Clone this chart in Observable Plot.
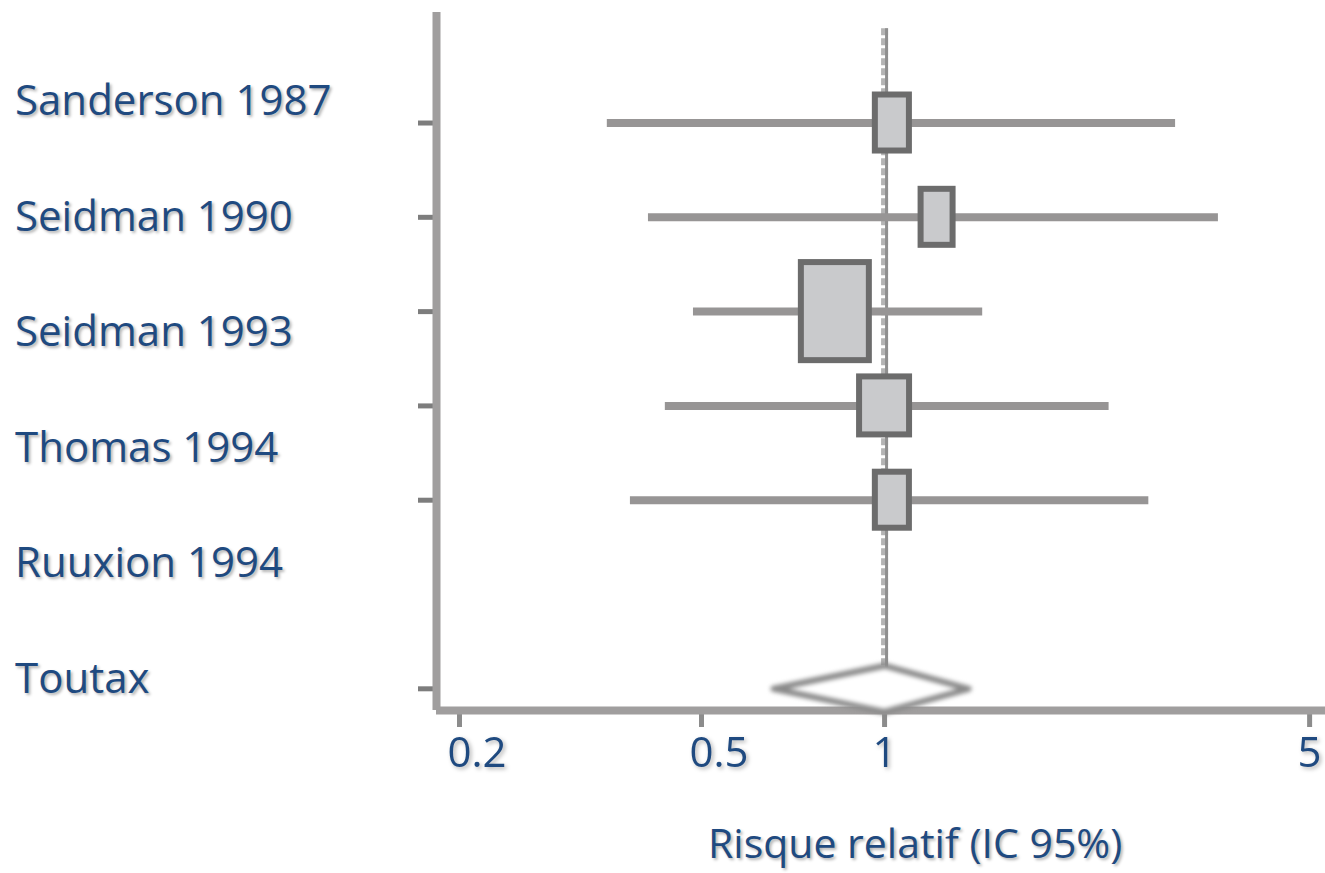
<!DOCTYPE html>
<html>
<head>
<meta charset="utf-8">
<script src="https://cdn.jsdelivr.net/npm/d3@7"></script>
<script src="https://cdn.jsdelivr.net/npm/@observablehq/plot@0.6"></script>
<style>
  body { margin: 0; background: #fff; font-family: "Open Sans", sans-serif; }
  #wrap { position: relative; width: 1325px; height: 873px; overflow: hidden; background: #fff; }
  #chart { position: absolute; left: 0; top: 0; }
  #labels { position: absolute; left: 15px; top: 41px; }
  #labels div { font-size: 42px; line-height: 115.6px; height: 115.6px; color: #1f4a80; white-space: nowrap;
                text-shadow: 2px 2px 3px rgba(0,0,0,0.3); }
  #xlabel { position: absolute; left: 708px; top: 822px; font-size: 41px; line-height: 41px; color: #1f4a80;
            white-space: nowrap; text-shadow: 2px 2px 3px rgba(0,0,0,0.3); }
</style>
</head>
<body>
<div id="wrap">
  <div id="chart"></div>
  <div id="labels"></div>
  <div id="xlabel"></div>
</div>
<script>
// ---- data ----
const studyLabels = ["Sanderson 1987", "Seidman 1990", "Seidman 1993", "Thomas 1994", "Ruuxion 1994", "Toutax"];
const studies = ["Sanderson 1987", "Seidman 1990", "Seidman 1993", "Thomas 1994", "Ruuxion 1994"];
const rr     = [1.03, 1.22, 0.83, 1.00, 1.03];
const ciLow  = [0.350, 0.409, 0.485, 0.436, 0.382];
const ciHigh = [3.01, 3.54, 1.45, 2.34, 2.72];
// box extent (study weight): half-width in log10 units, half-height in rows
const boxHalfWidth  = [0.028, 0.0263, 0.0559, 0.0411, 0.028];
const boxHalfHeight = [0.297, 0.297, 0.52, 0.3075, 0.297];
const pooledLabel = "Toutax";
const pooledRR = 1.0;
const pooledLow = 0.657;
const pooledHigh = 1.375;
const xTicks = [0.2, 0.5, 1, 5];
const xTickLabels = ["0.2", "0.5", "1", "5"];
const axisTitle = "Risque relatif (IC 95%)";

// ---- build tables ----
const rows = studies.map((s, i) => ({
  study: s, row: i, rr: rr[i], lo: ciLow[i], hi: ciHigh[i], bw: boxHalfWidth[i], bh: boxHalfHeight[i]
}));
const pooledRow = studies.length + 1;
const diamondHalf = 0.245;
const diamond = [
  {x: pooledLow, y: pooledRow},
  {x: pooledRR, y: pooledRow - diamondHalf},
  {x: pooledHigh, y: pooledRow},
  {x: pooledRR, y: pooledRow + diamondHalf},
  {x: pooledLow, y: pooledRow}
];
const tickRows = [...rows.map(d => d.row), pooledRow];
const xDomain = [0.1833, 5.31];
const yDomain = [-1.172, 6.23];

const axisGrey = "#a09e9e";
const textBlue = "#1f4a80";

const plot = Plot.plot({
  width: 1325,
  height: 873,
  marginLeft: 436,
  marginRight: 0,
  marginTop: 12,
  marginBottom: 163,
  style: { fontFamily: '"Open Sans", sans-serif', background: "transparent", overflow: "visible" },
  x: { type: "log", domain: xDomain },
  y: { domain: yDomain, reverse: true },
  marks: [
    Plot.axisY({ ticks: tickRows, tickSize: 18, tickFormat: () => "", stroke: "#7d7d7d", strokeWidth: 5 }),
    Plot.axisX({ ticks: xTicks, tickSize: 17, tickFormat: () => "", stroke: "#8c8c8c", strokeWidth: 5 }),
    Plot.ruleX([xDomain[0]], { stroke: axisGrey, strokeWidth: 8 }),
    Plot.ruleY([yDomain[1]], { stroke: axisGrey, strokeWidth: 8 }),
    // null line at RR = 1
    Plot.ruleX([1], { y1: -1, y2: pooledRow, stroke: "#b4b4b4", strokeWidth: 7, strokeDasharray: "7,3" }),
    Plot.ruleX([1], { y1: -1, y2: pooledRow, stroke: "#8f8f8f", strokeWidth: 3, dx: 2 }),
    // confidence intervals
    Plot.ruleY(rows, { y: "row", x1: "lo", x2: "hi", stroke: "#979595", strokeWidth: 8 }),
    // weighted boxes
    Plot.rect(rows, {
      x1: d => d.rr / 10 ** d.bw, x2: d => d.rr * 10 ** d.bw,
      y1: d => d.row - d.bh, y2: d => d.row + d.bh,
      fill: "#c9cacc", stroke: "#6c6c6c", strokeWidth: 6
    }),
    // pooled diamond
    Plot.line(diamond, { x: "x", y: "y", fill: "#ffffff", stroke: "#8a8a8a", strokeWidth: 6 }),
    // tick labels
    Plot.text(xTicks, {
      x: d => d, text: (d, i) => xTickLabels[i], frameAnchor: "bottom",
      textAnchor: "start", lineAnchor: "top", dx: -12, dy: 27,
      fontSize: 42, fill: textBlue
    })
  ]
});
document.getElementById("chart").appendChild(plot);
plot.querySelectorAll("text").forEach(t => { t.style.filter = "drop-shadow(2px 2px 2px rgba(0,0,0,0.3))"; });
plot.querySelectorAll('g[aria-label="line"] path').forEach(p => { p.style.filter = "blur(2px)"; });

const lab = document.getElementById("labels");
studyLabels.forEach(s => { const d = document.createElement("div"); d.textContent = s; lab.appendChild(d); });
document.getElementById("xlabel").textContent = axisTitle;
</script>
</body>
</html>
